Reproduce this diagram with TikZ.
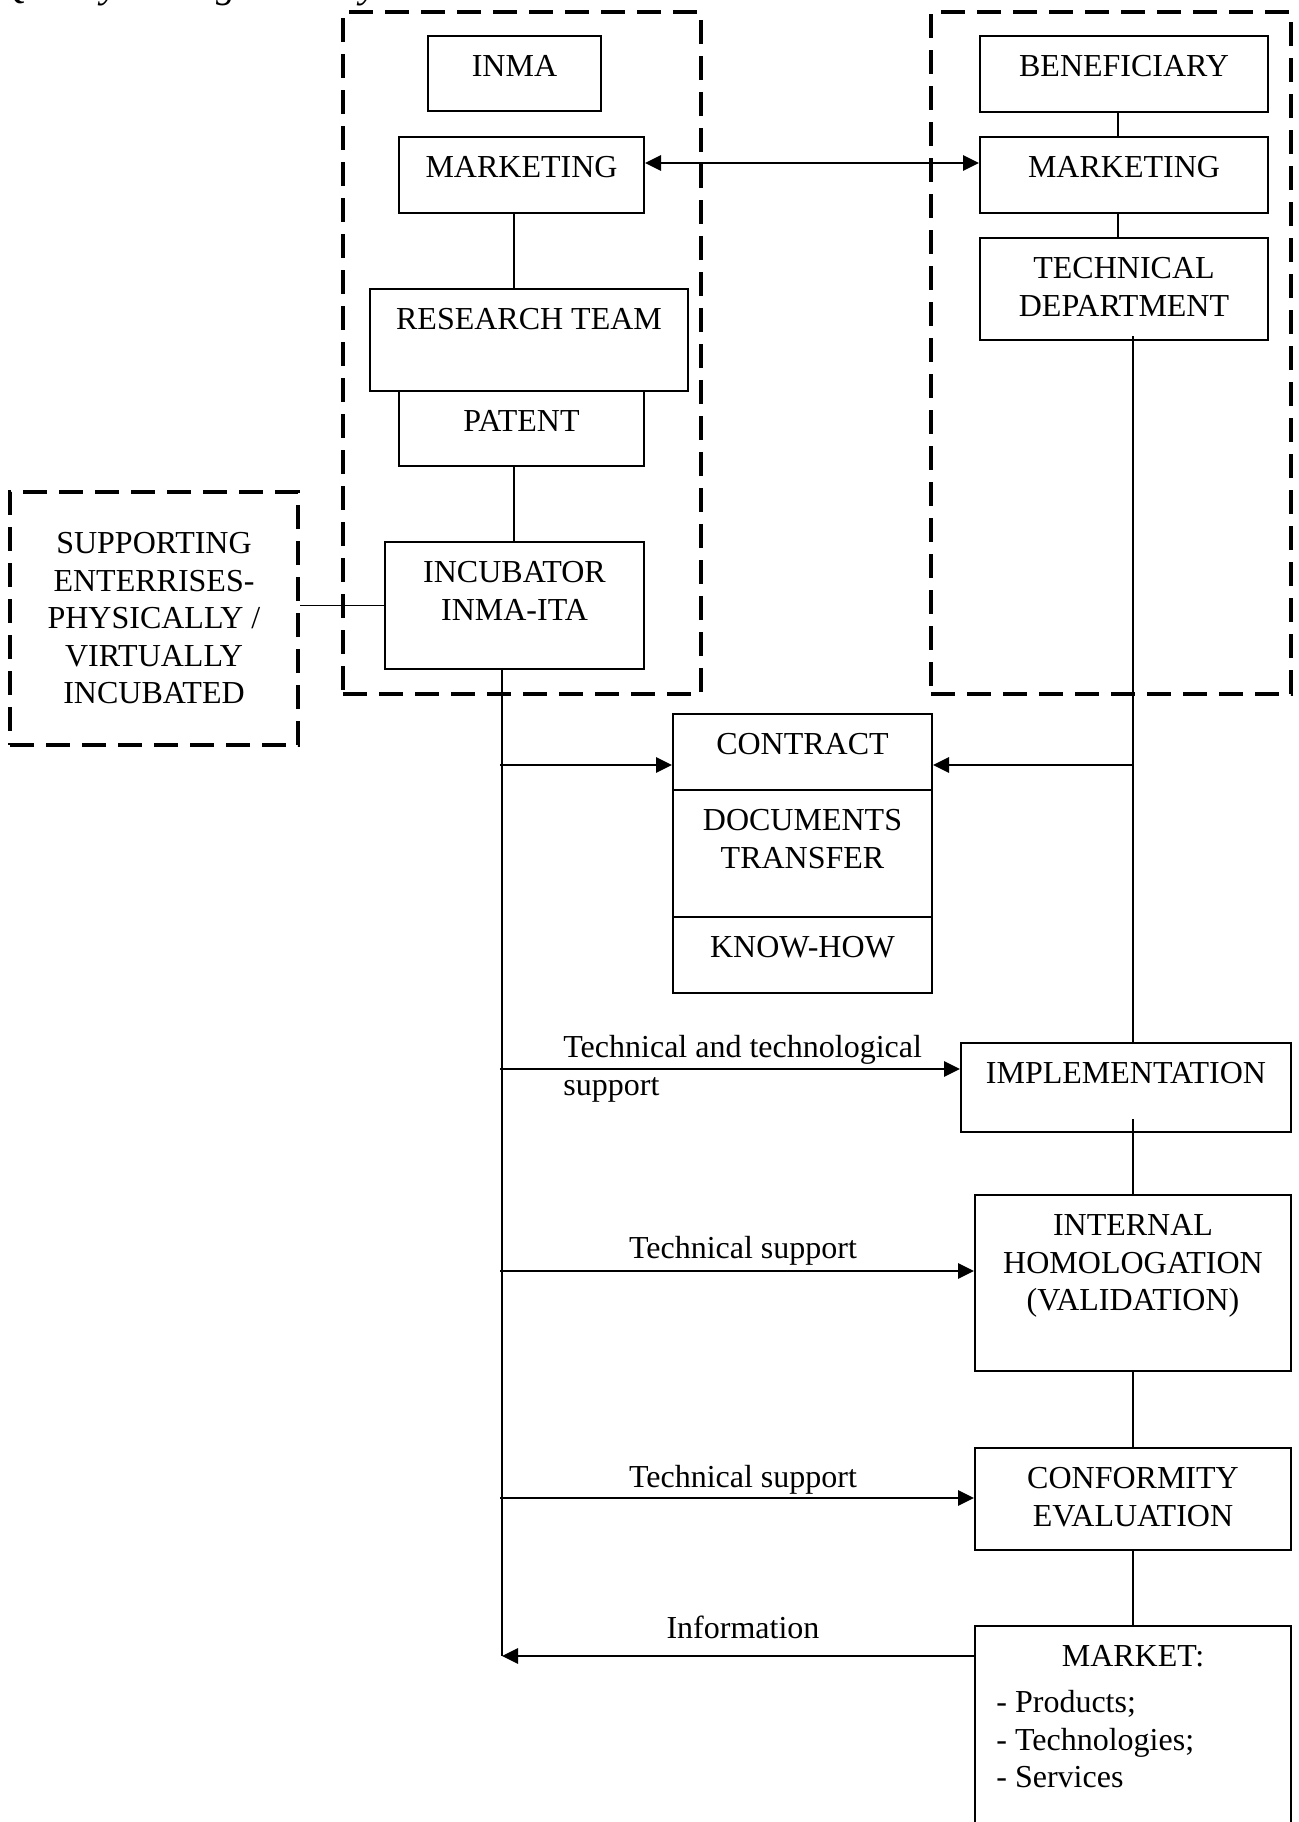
\documentclass[tikz,border=0pt]{standalone}
\usepackage{fontspec}
\setmainfont{Liberation Serif}
\usetikzlibrary{arrows.meta,fit,calc}
\tikzset{
  box/.style={draw, line width=1pt, inner sep=0pt},
  grp/.style={draw, line width=2pt, dash pattern=on 12pt off 6pt, inner sep=0pt},
  txt/.style={inner sep=0pt, align=center, font=\fontsize{16}{18.75}\selectfont},
  conn/.style={line width=0.9pt},
  arr/.style={line width=1.4pt, -{Triangle[length=8pt,width=7.5pt]}},
  darr/.style={line width=1.4pt, {Triangle[length=8pt,width=7.5pt]}-{Triangle[length=8pt,width=7.5pt]}},
}
\newcommand\mybox[6]{%
  \node[box, fit={(#2,#3) (#4,#5)}] (#1) {};
  \node[txt, anchor=north] (#1t) at ([yshift=-10pt]#1.north) {#6};}
\begin{document}
\begin{tikzpicture}[x=0.5pt,y=-0.5pt]
\useasboundingbox (0,0) rectangle (1298,1822);
\fill[white] (0,0) rectangle (1298,1822);
\clip (0,0) rectangle (1298,1822);

% cut-off caption at the top
\node[inner sep=0pt, anchor=base west, font=\fontsize{19.75}{24}\selectfont\itshape] (title) at (0,-2.5) {Quality management by};

% dashed groups
\node[grp, fit={(343,12) (701,694)}] (gL) {};
\node[grp, fit={(931,12) (1291,694)}] (gR) {};
\node[grp, fit={(10,492) (298,745)}] (sup) {};
\node[txt] (supt) at (sup.center) {SUPPORTING\\ENTERRISES-\\PHYSICALLY /\\VIRTUALLY\\INCUBATED};

% left column
\mybox{inma}{428}{36}{601}{111}{INMA}
\mybox{markL}{399}{137}{644}{213}{MARKETING}
\mybox{res}{370}{289}{688}{391}{RESEARCH TEAM}
\mybox{pat}{399}{391}{644}{466}{PATENT}
\mybox{inc}{385}{542}{644}{669}{INCUBATOR\\INMA-ITA}

% right column
\mybox{ben}{980}{36}{1268}{112}{BENEFICIARY}
\mybox{markR}{980}{137}{1268}{213}{MARKETING}
\mybox{tech}{980}{238}{1268}{340}{TECHNICAL\\DEPARTMENT}

% contract stack
\mybox{con}{673}{714}{932}{790}{CONTRACT}
\mybox{doc}{673}{790}{932}{917}{DOCUMENTS\\TRANSFER}
\mybox{know}{673}{917}{932}{993}{KNOW-HOW}

% process chain
\mybox{impl}{961}{1043}{1291}{1132}{IMPLEMENTATION}
\mybox{int}{975}{1195}{1291}{1371}{INTERNAL\\HOMOLOGATION\\(VALIDATION)}
\mybox{conf}{975}{1448}{1291}{1550}{CONFORMITY\\EVALUATION}
\mybox{mkt}{975}{1626}{1291}{1850}{MARKET:}
\node[txt, align=left, anchor=north west] (mktl) at (996,1690) {- Products;\\- Technologies;\\- Services};

% helper coordinates
\coordinate (lx) at (514,0);
\coordinate (rx) at (1118,0);
\coordinate (mx) at (1133,0);
\coordinate (vx) at (502,0);
\coordinate (lb) at (502,1656);
\coordinate (dm) at (0,163);

% plain connectors
\draw[conn] (markL.south -| lx) -- (res.north -| lx);
\draw[conn] (pat.south -| lx) -- (inc.north -| lx);
\draw[conn] (ben.south -| rx) -- (markR.north -| rx);
\draw[conn] (markR.south -| rx) -- (tech.north -| rx);
\draw[conn] (sup.east |- inc.west) -- (inc.west);
\draw[conn] (inc.south -| vx) -- (lb);
\draw[conn] (tech.south -| mx) ++(0,-5) -- (impl.north -| mx);
\draw[conn] (impl.south -| mx) ++(0,-14) -- (int.north -| mx);
\draw[conn] (int.south -| mx) -- (conf.north -| mx);
\draw[conn] (conf.south -| mx) -- (mkt.north -| mx);

% arrows
\draw[darr] (markL.east |- dm) -- (markR.west |- dm);
\coordinate (a1) at (500,765);
\coordinate (a2) at (1133,765);
\coordinate (a3) at (500,1069);
\coordinate (a4) at (500,1271);
\coordinate (a5) at (500,1498);
\draw[arr] (a1) -- (a1 -| con.west);
\draw[arr] (a2) -- (a2 -| con.east);
\draw[arr] (a3) -- (a3 -| impl.west);
\draw[arr] (a4) -- (a4 -| int.west);
\draw[arr] (a5) -- (a5 -| conf.west);
\draw[arr] (mkt.west |- lb) -- (lb);

% labels
\node[txt, align=left, anchor=north west] (l3) at (563,1035) {Technical and technological\\support};
\node[txt, anchor=base] (l4) at (743,1258) {Technical support};
\node[txt, anchor=base] (l5) at (743,1487) {Technical support};
\node[txt, anchor=base] (l6) at (743,1638) {Information};
\end{tikzpicture}
\end{document}
